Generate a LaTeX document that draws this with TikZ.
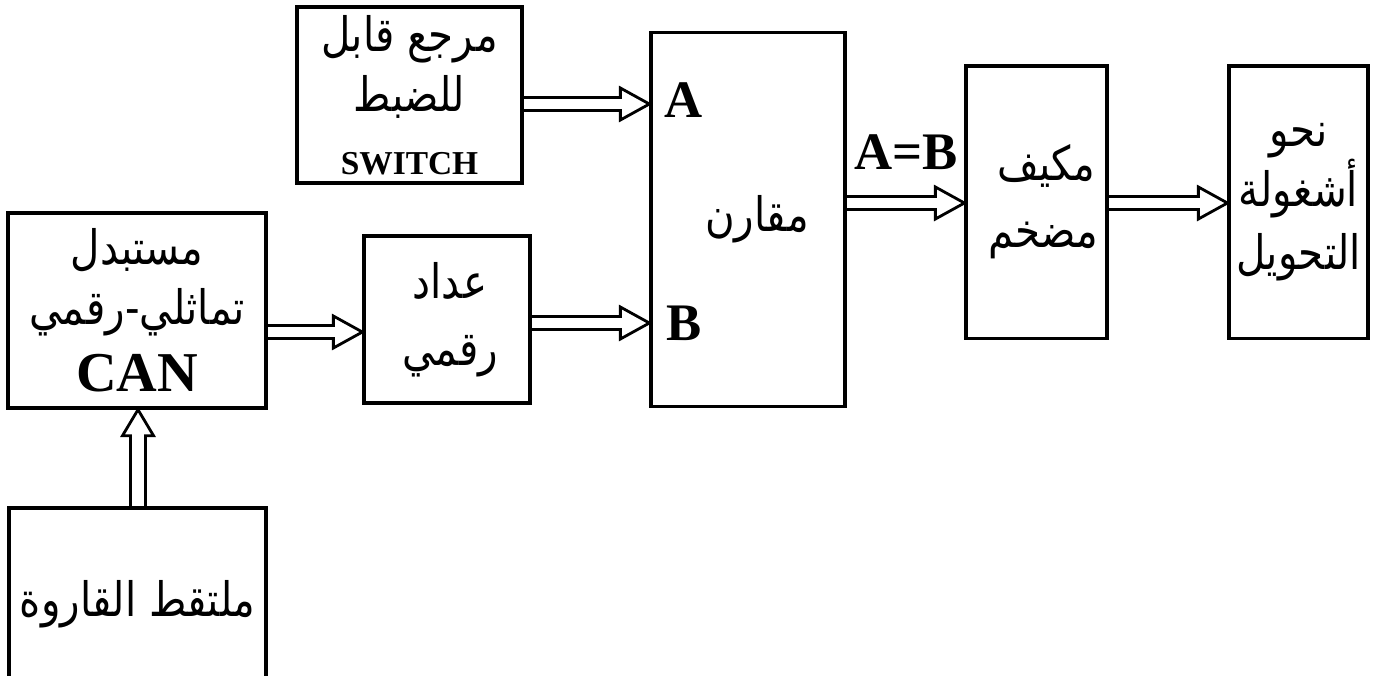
\documentclass[tikz,border=0pt]{standalone}
\usepackage{fontspec}
\setmainfont{Liberation Serif}
\newfontfamily\arabicfont[Script=Arabic,FakeStretch=0.85]{DejaVu Sans}
\TeXXeTstate=1
\usetikzlibrary{calc}

\tikzset{
  box/.style={draw, line width=0.9pt, inner sep=0pt, align=center,
    font=\arabicfont\fontsize{13.5}{17}\selectfont},
  fat/.style={line width=0.8pt, line join=miter},
  lab/.style={font=\rmfamily\bfseries\fontsize{15}{18}\selectfont, inner sep=0pt}
}
\newcommand{\artext}[1]{\beginR #1\endR}
\newcommand{\lat}[2]{{\rmfamily\bfseries\fontsize{#1}{#1}\selectfont #2}}
% hollow arrow pointing right, #1 start on a box edge, #2 tip
\newcommand{\fatright}[2]{%
  \draw[fat] let \p1=#1, \p2=#2 in
    (\x1,{\y1+0.065cm}) -- ({\x2-0.29cm},{\y1+0.065cm}) --
    ({\x2-0.29cm},{\y1+0.16cm}) -- (\x2,\y1) --
    ({\x2-0.29cm},{\y1-0.16cm}) -- ({\x2-0.29cm},{\y1-0.065cm}) --
    (\x1,{\y1-0.065cm});}
% hollow arrow pointing up
\newcommand{\fatup}[2]{%
  \draw[fat] let \p1=#1, \p2=#2 in
    ({\x1-0.075cm},\y1) -- ({\x1-0.075cm},{\y2-0.26cm}) --
    ({\x1-0.155cm},{\y2-0.26cm}) -- (\x1,\y2) --
    ({\x1+0.155cm},{\y2-0.26cm}) -- ({\x1+0.075cm},{\y2-0.26cm}) --
    ({\x1+0.075cm},\y1);}

\begin{document}
\begin{tikzpicture}[x=0.01cm,y=-0.01cm]
  \useasboundingbox (0,0) rectangle (1374,675);
  \clip (0,0) rectangle (1374,675);

  % blocks
  \node[box, minimum width=2.25cm, minimum height=1.76cm] (ref) at (409.5,95)
    {\artext{مرجع قابل}\\ \artext{للضبط}\\[1pt] \lat{9.5}{SWITCH}};
  \node[box, minimum width=2.58cm, minimum height=1.95cm] (can) at (137,310.5)
    {\artext{مستبدل}\\ \artext{تماثلي-رقمي}\\[2pt] \lat{16}{CAN}};
  \node[box, minimum width=1.66cm, minimum height=1.67cm] (count) at (447,319.5)
    {\hspace*{0.06cm}\artext{عداد}\\[2pt] \hspace*{0.06cm}\artext{رقمي}};
  \node[box, minimum width=1.94cm, minimum height=3.73cm] (cmp) at (748,219.5)
    {\hspace*{0.18cm}\artext{مقارن}};
  \node[box, minimum width=1.41cm, minimum height=2.72cm] (amp) at (1036.5,202)
    {\hspace*{0.2cm}\artext{مكيف}\\[2pt] \hspace*{0.14cm}\artext{مضخم}};
  \node[box, minimum width=1.39cm, minimum height=2.72cm] (out) at (1298.5,202)
    {\artext{نحو}\\ \artext{أشغولة}\\[1pt] \artext{التحويل}};
  \node[box, minimum width=2.57cm, minimum height=1.92cm] (sens) at (137.5,604)
    {\artext{ملتقط القاروة}};

  % labels
  \node[lab] (inA) at (684,100) {A};
  \node[lab] (inB) at (684,323) {B};
  \node[lab] (eq) at (906,152) {A=B};

  % rows of the arrows
  \coordinate (rowA) at (0,104);
  \coordinate (rowB) at (0,323);
  \coordinate (rowC) at (0,332);
  \coordinate (rowE) at (0,203);
  \coordinate (colS) at (138,0);

  \fatright{(ref.east |- rowA)}{(cmp.west |- rowA)}
  \fatright{(can.east |- rowC)}{(count.west |- rowC)}
  \fatright{(count.east |- rowB)}{(cmp.west |- rowB)}
  \fatright{(cmp.east |- rowE)}{(amp.west |- rowE)}
  \fatright{(amp.east |- rowE)}{(out.west |- rowE)}
  \fatup{(sens.north -| colS)}{(can.south -| colS)}
\end{tikzpicture}
\end{document}
